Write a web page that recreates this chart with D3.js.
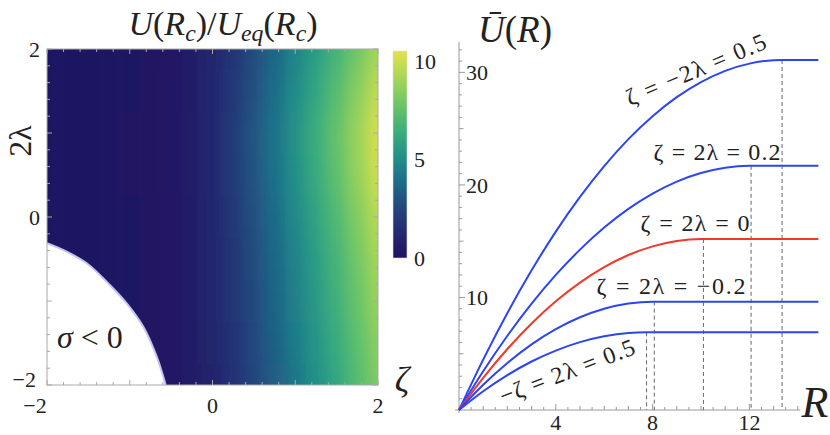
<!doctype html>
<html>
<head>
  <meta charset="utf-8">
  <title>U(Rc) map and U(R) curves</title>
  <script src="https://d3js.org/d3.v7.min.js"></script>
  <style>
    body { margin:0; background:#fff; }
    svg { display:block; }
    svg text { font-family:"Liberation Serif", "DejaVu Serif", serif; fill:#222; }
  </style>
</head>
<body>
  <svg id="chart" width="830" height="435"></svg>

  <script>
    // ---- left panel: ratio map ----
    const zetaCols = [-2,-1.75,-1.5,-1.25,-1,-0.75,-0.5,-0.25,0,0.25,0.5,0.75,1,1.25,1.5,1.75,2];
    const lamRows  = [2,1.5,1,0.5,0,-0.5,-1,-1.5,-2];
    const ratio = [
      [0,0,0.02,0.05,0.09,0.17,0.28,0.52,1.04,1.80,2.70,3.65,4.64,5.63,6.68,7.81,9.0],
      [0,0,0.02,0.05,0.10,0.18,0.31,0.56,1.12,1.94,2.91,3.93,5.00,6.07,7.19,8.42,9.7],
      [0,0,0.02,0.05,0.11,0.19,0.32,0.59,1.18,2.04,3.06,4.13,5.26,6.39,7.57,8.86,10.2],
      [0,0,0.02,0.05,0.11,0.19,0.32,0.58,1.16,2.00,3.00,4.05,5.16,6.27,7.42,8.69,10.0],
      [0,0,0.02,0.05,0.10,0.18,0.30,0.55,1.10,1.90,2.85,3.85,4.90,5.95,7.05,8.25,9.5],
      [0,0,0.02,0.05,0.10,0.17,0.29,0.53,1.05,1.82,2.73,3.69,4.69,5.70,6.75,7.90,9.1],
      [0,0,0.02,0.05,0.09,0.17,0.28,0.51,1.02,1.76,2.64,3.57,4.54,5.51,6.53,7.64,8.8],
      [0,0,0.02,0.04,0.09,0.16,0.27,0.49,0.98,1.70,2.55,3.45,4.39,5.33,6.31,7.38,8.5],
      [0,0,0.02,0.04,0.09,0.16,0.26,0.47,0.95,1.64,2.46,3.32,4.23,5.13,6.08,7.12,8.2]
    ];
    // edge of the sigma<0 region
    const sigmaZeta = [-2,-1.762,-1.52,-1.28,-1.037,-0.836,-0.674,-0.566];
    const sigmaLam  = [-0.313,-0.413,-0.551,-0.770,-1.027,-1.306,-1.663,-2.0];
    const mapTicks  = [-2,0,2];
    const barTicks  = [0,5,10];
    const palette   = ["#1f1362","#252a71","#22477f","#1d6e8a","#22938a","#3bb27a","#6fc765","#a8d856","#e3e24a"];

    // ---- right panel: U(R) curves ----
    const curveNames = ["ζ = −2λ = 0.5","ζ = 2λ = 0.2","ζ = 2λ = 0","ζ = 2λ = −0.2","−ζ = 2λ = 0.5"];
    const curveR = [
      [0,1,2,3,4,5,6,7,8,9,10,11,12,13,13.35,14.85],
      [0,1,2,3,4,5,6,7,8,9,10,11,12,12.07,14.85],
      [0,1,2,3,4,5,6,7,8,9,10,10.1,14.85],
      [0,1,2,3,4,5,6,7,8,8.07,14.85],
      [0,1,2,3,4,5,6,7,7.75,14.85]
    ];
    const curveU = [
      [0,4.48,8.62,12.41,15.85,18.93,21.67,24.07,26.11,27.80,29.14,30.14,30.78,31.08,31.1,31.1],
      [0,3.45,6.60,9.45,12.00,14.25,16.21,17.87,19.23,20.30,21.06,21.53,21.70,21.7,21.7],
      [0,2.86,5.42,7.69,9.66,11.32,12.69,13.77,14.54,15.02,15.20,15.2,15.2],
      [0,2.24,4.18,5.83,7.18,8.24,9.00,9.46,9.63,9.63,9.63],
      [0,1.67,3.10,4.31,5.28,6.03,6.55,6.84,6.9,6.9]
    ];
    const critR     = [13.35,12.07,10.1,8.07,7.75];
    const critU     = [31.1,21.7,15.2,9.63,6.9];
    const curveCol  = ["#2b45f2","#2b45f2","#f2382a","#2b45f2","#2b45f2"];
    const rTicks    = [4,8,12];
    const uTicks    = [10,20,30];

    const svg = d3.select("#chart");
    const defs = svg.append("defs");

    // little helper for math-ish labels: [text, italic, shift]
    function mathText(g, x, y, size, parts, anchor) {
      const t = g.append("text").attr("x", x).attr("y", y)
        .attr("font-size", size).attr("text-anchor", anchor || "middle");
      let cur = 0;
      parts.forEach(p => {
        const sh = p[2] || 0;
        t.append("tspan")
          .attr("dy", sh - cur)
          .attr("font-style", p[1] ? "italic" : null)
          .attr("font-size", sh ? size*0.7 : null)
          .text(p[0]);
        cur = sh;
      });
      return t;
    }

    // ===== left panel =====
    const x0 = d3.scaleLinear().domain([-2,2]).range([47,378]);
    const y0 = d3.scaleLinear().domain([-2,2]).range([385,49]);
    const color = d3.scaleSequential(d3.interpolateRgbBasis(palette)).domain([0,10.5]);

    defs.append("clipPath").attr("id","mapClip")
      .append("rect").attr("x",47).attr("y",49).attr("width",331).attr("height",336);
    const blur = defs.append("filter").attr("id","soft")
      .attr("filterUnits","userSpaceOnUse")
      .attr("x",0).attr("y",0).attr("width",430).attr("height",435);
    blur.append("feGaussianBlur").attr("stdDeviation","7 16");

    const dz = 0.25, dl = 0.5;
    const cells = [];
    lamRows.forEach((l,i) => zetaCols.forEach((z,j) => {
      cells.push({z, l, v: ratio[i][j], i, j});
    }));
    const mapG = svg.append("g").attr("clip-path","url(#mapClip)");
    mapG.append("g").attr("filter","url(#soft)")
      .selectAll("rect").data(cells).enter().append("rect")
      .attr("x", d => d.j===0 ? x0(d.z)-40 : x0(d.z-dz/2))
      .attr("width", d => {
        const a = d.j===0 ? x0(d.z)-40 : x0(d.z-dz/2);
        const b = d.j===zetaCols.length-1 ? x0(d.z)+40 : x0(d.z+dz/2);
        return b-a+0.5;
      })
      .attr("y", d => d.i===0 ? y0(d.l)-60 : y0(d.l+dl/2))
      .attr("height", d => {
        const a = d.i===0 ? y0(d.l)-60 : y0(d.l+dl/2);
        const b = d.i===lamRows.length-1 ? y0(d.l)+60 : y0(d.l-dl/2);
        return b-a+0.5;
      })
      .attr("fill", d => color(d.v));

    // sigma < 0 region
    const edgePts = sigmaZeta.map((z,k) => [z, sigmaLam[k]]);
    const edgeLine = d3.line().x(d=>x0(d[0])).y(d=>y0(d[1])).curve(d3.curveCatmullRom);
    mapG.append("path")
      .attr("d", edgeLine(edgePts) + `L${x0(-2)},${y0(-2)}Z`)
      .attr("fill","#fff");
    mapG.append("path")
      .attr("d", edgeLine(edgePts))
      .attr("fill","none").attr("stroke","#c3c3f2").attr("stroke-width",2);

    // frame + ticks
    const frame = svg.append("g").attr("stroke","#a9a9a9").attr("stroke-width",1);
    frame.append("rect").attr("x",47).attr("y",49).attr("width",331).attr("height",336).attr("fill","none");
    const minor = d3.range(-2, 2.001, 0.2);
    minor.forEach(v => {
      const len = Math.abs(v % 1) < 1e-6 ? 5 : 3;
      frame.append("line").attr("x1",x0(v)).attr("x2",x0(v)).attr("y1",385).attr("y2",385-len);
      frame.append("line").attr("x1",x0(v)).attr("x2",x0(v)).attr("y1",49).attr("y2",49+len);
      frame.append("line").attr("y1",y0(v)).attr("y2",y0(v)).attr("x1",47).attr("x2",47+len);
      frame.append("line").attr("y1",y0(v)).attr("y2",y0(v)).attr("x1",378).attr("x2",378-len);
    });

    mapTicks.forEach(v => {
      svg.append("text").attr("x", x0(v)-(v<0?12:0)).attr("y", 413).attr("font-size",22)
        .attr("text-anchor","middle").text(v<0 ? "−"+(-v) : v);
      svg.append("text").attr("x", v<0 ? 36 : 40).attr("y", y0(v)+(v<0?2:8)).attr("font-size",22)
        .attr("text-anchor","end").text(v<0 ? "−"+(-v) : v);
    });

    mathText(svg, 223, 35, 34, [["U",1],["("],["R",1],["c",1,6],[")"],["/"],["U",1],["eq",1,6],["("],["R",1],["c",1,6],[")"]]);
    mathText(svg, 0, 0, 32, [["2"],["λ"]]).attr("transform","translate(31,141) rotate(-90)");
    mathText(svg, 402, 392, 36, [["ζ",1]]);
    mathText(svg, 57, 348, 32, [["σ",1],[" < 0"]], "start");

    // colour bar
    const yBar = d3.scaleLinear().domain([0,10.5]).range([258,51]);
    const grad = defs.append("linearGradient").attr("id","barGrad")
      .attr("x1",0).attr("x2",0).attr("y1",1).attr("y2",0);
    d3.range(0, 1.0001, 0.05).forEach(f => {
      grad.append("stop").attr("offset", f).attr("stop-color", color(f*10.5));
    });
    svg.append("rect").attr("x",393).attr("y",51).attr("width",14).attr("height",207)
      .attr("fill","url(#barGrad)").attr("stroke","#ddd").attr("stroke-width",0.6);
    barTicks.forEach(v => {
      svg.append("text").attr("x",414).attr("y",yBar(v)+8).attr("font-size",22).text(v);
    });

    // ===== right panel =====
    const xr = d3.scaleLinear().domain([0,14]).range([459,797.8]);
    const yr = d3.scaleLinear().domain([0,32.7]).range([410,42]);

    const ax = svg.append("g").attr("stroke","#999").attr("stroke-width",1);
    ax.append("line").attr("x1",455).attr("x2",800).attr("y1",410).attr("y2",410);
    ax.append("line").attr("x1",459).attr("x2",459).attr("y1",42).attr("y2",413);
    d3.range(0.5, 14.01, 0.5).forEach(v => {
      const len = Math.abs(v % 4) < 1e-6 ? 6 : (Math.abs(v % 1) < 1e-6 ? 4 : 3);
      ax.append("line").attr("x1",xr(v)).attr("x2",xr(v)).attr("y1",410).attr("y2",410-len);
    });
    d3.range(1, 32.01, 1).forEach(v => {
      const len = v % 10 === 0 ? 6 : (v % 5 === 0 ? 4.5 : 3);
      ax.append("line").attr("y1",yr(v)).attr("y2",yr(v)).attr("x1",459).attr("x2",459+len);
    });
    rTicks.forEach(v => {
      svg.append("text").attr("x",xr(v)).attr("y",430).attr("font-size",22)
        .attr("text-anchor","middle").text(v);
    });
    uTicks.forEach(v => {
      svg.append("text").attr("x",466).attr("y",yr(v)+8).attr("font-size",22).text(v);
    });

    // dashed markers at the critical radius
    critR.forEach((r,k) => {
      svg.append("line").attr("x1",xr(r)).attr("x2",xr(r))
        .attr("y1",yr(critU[k])).attr("y2",yr(0))
        .attr("stroke","#555").attr("stroke-width",0.9).attr("stroke-dasharray","4,3");
    });

    const line = d3.line().x(d=>xr(d[0])).y(d=>yr(d[1])).curve(d3.curveMonotoneX);
    curveR.forEach((rs,k) => {
      svg.append("path").attr("d", line(rs.map((r,m) => [r, curveU[k][m]])))
        .attr("fill","none").attr("stroke",curveCol[k]).attr("stroke-width",2);
    });

    // curve labels (widths)
    const labelW = [150,127,109,149,143];
    const lab = svg.append("g").attr("font-size",24);
    lab.append("text").attr("transform","translate(699,77) rotate(-23)")
      .attr("text-anchor","middle").attr("textLength",labelW[0]).text(curveNames[0]);
    lab.append("text").attr("x",717).attr("y",160).attr("text-anchor","middle")
      .attr("textLength",labelW[1]).text(curveNames[1]);
    lab.append("text").attr("x",695).attr("y",231).attr("text-anchor","middle")
      .attr("textLength",labelW[2]).text(curveNames[2]);
    lab.append("text").attr("x",671).attr("y",294).attr("text-anchor","middle")
      .attr("textLength",labelW[3]).text(curveNames[3]);
    lab.append("text").attr("transform","translate(570,379) rotate(-21)")
      .attr("text-anchor","middle").attr("textLength",labelW[4]).text(curveNames[4]);

    mathText(svg, 515, 42, 37, [["Ū",1],["("],["R",1],[")"]]);
    mathText(svg, 815, 417, 44, [["R",1]]);
  </script>
</body>
</html>
